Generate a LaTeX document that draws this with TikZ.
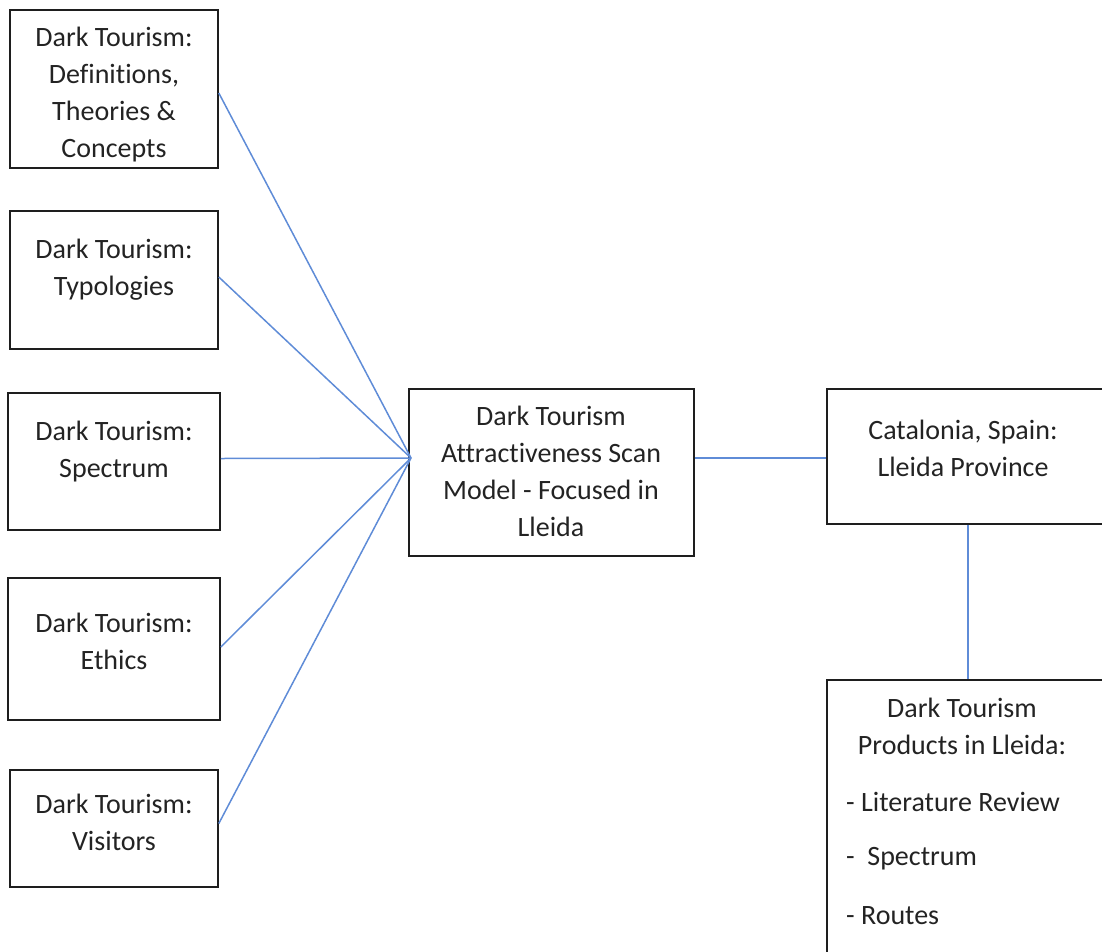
\documentclass[tikz,border=0pt]{standalone}
\usepackage{fontspec}
\setmainfont{Carlito}[Ligatures=NoCommon]
\usetikzlibrary{calc}
\definecolor{conn}{RGB}{95,140,215}
\definecolor{frame}{RGB}{30,30,30}
\definecolor{ink}{RGB}{35,35,35}
\tikzset{
  box/.style={draw=frame, line width=1.6pt, rectangle, inner sep=0pt, fill=none},
  txt/.style={align=center, inner sep=0pt, text=ink, font=\fontsize{28}{37}\selectfont},
  ltxt/.style={align=left, inner sep=0pt, anchor=west, text=ink, font=\fontsize{28}{37}\selectfont},
  conline/.style={draw=conn, line width=1.5pt}
}
\begin{document}
\begin{tikzpicture}[x=1pt,y=-1pt]
\useasboundingbox (0,0) rectangle (1102,951);
\clip (0,0) rectangle (1102,951);
% boxes
\node[box, minimum width=208pt, minimum height=158pt] (b1) at (114,89) {};
\node[box, minimum width=208pt, minimum height=138pt] (b2) at (114,280) {};
\node[box, minimum width=212pt, minimum height=137pt] (b3) at (114,461.5) {};
\node[box, minimum width=212pt, minimum height=142pt] (b4) at (114,649) {};
\node[box, minimum width=208pt, minimum height=117pt] (b5) at (114,828.5) {};
\node[box, minimum width=285pt, minimum height=167pt] (ctr) at (551.5,472.5) {};
\node[box, minimum width=290pt, minimum height=135pt] (rt) at (972,456.5) {};
\node[box, minimum width=290pt, minimum height=300pt] (br) at (972,830) {};
% texts
\node[txt] (t1) at (114,95) {Dark Tourism:\\Definitions,\\Theories \&\\Concepts};
\node[txt] (t2) at (114,270) {Dark Tourism:\\Typologies};
\node[txt] (t3) at (114,452) {Dark Tourism:\\Spectrum};
\node[txt] (t4) at (114,641) {Dark Tourism:\\Ethics};
\node[txt] (t5) at (114,822) {Dark Tourism:\\Visitors};
\node[txt] (tc) at (551,471) {Dark Tourism\\Attractiveness Scan\\Model - Focused in\\Lleida};
\node[txt] (tr) at (963,448) {Catalonia, Spain:\\Lleida Province};
\node[txt] (tb) at (962,726) {Dark Tourism\\Products in Lleida:};
\node[ltxt] (i1) at (846,802) {- Literature Review};
\node[ltxt] (i2) at (846,859) {-\ \ Spectrum};
\node[ltxt] (i3) at (846,916) {- Routes};
% connectors
\coordinate (hub) at (411,458);
\draw[conline] ($(b1.east)+(0,4)$) -- (hub);
\draw[conline] ($(b2.east)+(0,-3)$) -- (hub);
\draw[conline] ($(b3.east)+(0,-3)$) -- (hub);
\draw[conline] ($(b4.east)+(0,-2)$) -- (hub);
\draw[conline] ($(b5.east)+(0,-5)$) -- (hub);
\draw[conline] (ctr.east |- hub) -- (rt.west |- hub);
\draw[conline] ($(rt.south)+(-4,0)$) -- ($(br.north)+(-4,0)$);
\end{tikzpicture}
\end{document}
